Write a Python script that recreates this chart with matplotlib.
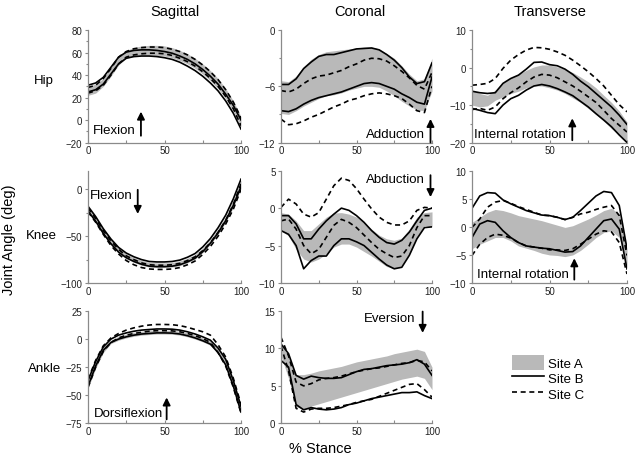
import matplotlib
matplotlib.use("Agg")
import matplotlib.pyplot as plt
from matplotlib.patches import Patch
from matplotlib.lines import Line2D
from matplotlib.ticker import FixedLocator

plt.rcParams['font.family'] = ['Liberation Sans', 'DejaVu Sans']

# % stance, sampled every 5 %
stance = list(range(0, 101, 5))

# ---- Hip sagittal
hip_sag_A_hi = [30, 32, 37, 47, 56, 62, 64.5, 66, 66.5, 66.5, 66, 64.5, 62, 59, 55, 50, 44, 37, 28, 17, 3]
hip_sag_A_lo = [22, 24, 30, 39, 49, 55, 57, 58, 58, 57.5, 57, 55.5, 53, 50, 46, 41, 35, 28, 19, 8, -6]
hip_sag_B_hi = [31, 33, 38, 47, 56, 60.5, 62, 62.5, 62.5, 62, 61, 59.5, 57, 54, 50, 45, 39, 32, 23, 13, 0]
hip_sag_B_lo = [25, 27, 32, 41, 50, 55, 56.5, 57, 57, 56.5, 55.5, 54, 51.5, 48, 44, 39, 33, 26, 17, 6, -8]
hip_sag_C_hi = [29, 31, 37, 46, 56, 61, 63.5, 64.5, 65, 65, 64.5, 63, 61, 58, 54, 49, 43, 36, 27, 16, 2]
hip_sag_C_lo = [24, 26, 31, 40, 50, 56, 58, 59, 59.5, 59.5, 59, 57.5, 55, 52, 48, 43, 37, 30, 21, 10, -5]

# ---- Hip coronal
hip_cor_A_hi = [-5.4, -5.5, -4.9, -3.9, -3.1, -2.6, -2.3, -2.2, -2.1, -2.0, -1.9, -1.8, -1.8, -2.0, -2.5, -3.0, -3.8, -4.7, -5.4, -5.2, -3.0]
hip_cor_A_lo = [-8.9, -9.0, -8.6, -8.1, -7.7, -7.3, -7.0, -6.9, -6.7, -6.4, -6.2, -6.0, -6.0, -6.1, -6.5, -7.0, -7.6, -8.1, -8.5, -8.6, -6.5]
hip_cor_B_hi = [-5.8, -5.8, -5.2, -4.1, -3.4, -2.8, -2.6, -2.6, -2.4, -2.2, -2.0, -1.95, -1.9, -2.1, -2.6, -3.2, -4.0, -5.0, -5.7, -5.5, -3.5]
hip_cor_B_lo = [-8.6, -8.7, -8.4, -7.9, -7.5, -7.2, -7.0, -6.8, -6.6, -6.3, -6.0, -5.7, -5.6, -5.7, -6.0, -6.3, -6.8, -7.2, -7.7, -7.9, -5.0]
hip_cor_C_hi = [-6.45, -6.6, -6.3, -5.7, -5.2, -4.9, -4.8, -4.55, -4.3, -3.9, -3.6, -3.2, -3.0, -3.05, -3.3, -3.8, -4.4, -5.1, -5.9, -6.3, -4.5]
hip_cor_C_lo = [-9.5, -10.1, -10.0, -9.7, -9.3, -9.0, -8.6, -8.2, -7.9, -7.5, -7.3, -7.0, -6.8, -6.7, -6.8, -7.0, -7.3, -7.9, -8.6, -8.8, -6.0]

# ---- Hip transverse
hip_tra_A_hi = [-6.0, -6.9, -7.4, -6.0, -4.0, -2.7, -1.8, -0.7, 0.2, 0.7, 0.7, 0.2, -0.4, -1.3, -2.5, -3.8, -5.4, -7.4, -9.3, -11.6, -14.5]
hip_tra_A_lo = [-10.0, -10.5, -10.2, -8.7, -7.8, -6.9, -6.3, -5.4, -4.9, -4.9, -5.4, -6.0, -6.9, -8.1, -9.3, -10.9, -12.5, -14.3, -16.3, -18.0, -19.8]
hip_tra_B_hi = [-6.3, -6.7, -6.9, -6.7, -4.2, -2.9, -2.0, -0.4, 1.4, 1.5, 0.8, 0.5, -0.4, -1.8, -3.6, -5.1, -6.9, -8.7, -10.5, -12.7, -15.2]
hip_tra_B_lo = [-10.9, -11.4, -12.0, -12.3, -10.0, -8.3, -7.4, -6.0, -4.9, -4.5, -4.9, -5.6, -6.5, -7.5, -9.0, -10.5, -12.3, -14.0, -15.8, -18.0, -20.0]
hip_tra_C_hi = [-4.7, -4.5, -4.2, -2.9, -0.2, 2.0, 3.5, 4.7, 5.4, 5.3, 4.9, 4.2, 3.3, 2.0, 0.5, -1.1, -2.9, -4.9, -7.4, -9.9, -11.8]
hip_tra_C_lo = [-11.2, -10.9, -11.4, -10.5, -8.3, -6.7, -5.4, -3.8, -2.5, -1.8, -2.0, -2.7, -3.8, -4.9, -6.3, -7.8, -9.3, -11.4, -13.6, -15.4, -17.2]

# ---- Knee sagittal
knee_sag_A_hi = [-19, -30, -43, -54, -63, -69, -73, -76, -78, -78.5, -78.5, -78, -76.5, -73.5, -69.5, -62.5, -53.5, -42, -29, -11, 10]
knee_sag_A_lo = [-24, -35, -48, -59, -68, -74, -78, -81, -83, -83.5, -83.5, -83, -81.5, -78.5, -74.5, -67.5, -58.5, -48, -35, -19, 1]
knee_sag_B_hi = [-18, -29, -42, -53, -62, -68, -72, -75, -77, -77.5, -77.5, -77, -75.5, -72.5, -68.5, -61.5, -52.5, -41, -27.5, -10, 11]
knee_sag_B_lo = [-23, -34, -47, -58, -67, -73, -77, -80, -82, -82.5, -82.5, -82, -80.5, -77.5, -73.5, -66.5, -57.5, -46.5, -33.5, -17, 3]
knee_sag_C_hi = [-20, -31, -44, -55, -64, -71, -75, -78.5, -80.5, -81, -81, -80.5, -79, -76, -72, -65.5, -57, -46, -33, -16, 6]
knee_sag_C_lo = [-24, -35, -48, -60, -69, -76, -80.5, -83.5, -85, -85.5, -85.5, -85, -83.5, -80.5, -76.5, -69.5, -61, -50, -37, -21, 0]

# ---- Knee coronal
knee_cor_A_hi = [-0.6, -0.8, -1.7, -3.0, -3.0, -2.1, -1.2, -0.65, -0.6, -0.8, -1.2, -1.9, -2.8, -3.6, -4.1, -4.3, -4.0, -2.8, -1.2, -0.6, -0.5]
knee_cor_A_lo = [-3.0, -3.7, -5.5, -6.8, -7.2, -6.8, -6.1, -5.2, -4.8, -4.8, -5.2, -5.8, -6.4, -7.1, -7.8, -8.1, -7.7, -6.1, -3.9, -2.3, -2.5]
knee_cor_B_hi = [-1.0, -1.0, -2.1, -4.1, -4.1, -2.8, -1.7, -0.8, 0.0, -0.3, -1.0, -1.9, -3.0, -3.9, -4.6, -4.8, -4.3, -3.2, -1.7, -0.3, 0.0]
knee_cor_B_lo = [-3.0, -3.5, -5.0, -8.1, -7.0, -6.4, -6.4, -5.0, -4.1, -4.1, -4.5, -5.0, -5.9, -6.8, -7.6, -8.1, -7.9, -6.3, -4.1, -2.6, -2.5]
knee_cor_C_hi = [0.1, 1.2, 0.55, -0.8, -1.2, -0.6, 1.2, 3.0, 4.0, 3.7, 2.6, 1.2, -0.1, -1.2, -1.9, -2.25, -2.25, -1.7, -0.3, 0.1, 0.0]
knee_cor_C_lo = [-1.7, -1.45, -2.8, -5.0, -6.1, -5.5, -3.9, -2.3, -1.5, -1.9, -2.6, -3.6, -4.6, -5.5, -6.1, -6.6, -6.4, -5.0, -2.6, -1.0, -1.0]

# ---- Knee transverse
knee_tra_A_hi = [0.8, 1.7, 2.6, 3.1, 2.9, 2.5, 2.0, 1.7, 1.4, 1.1, 0.7, 0.3, -0.1, 0.2, 0.8, 1.4, 2.1, 2.9, 3.3, 2.3, -3.9]
knee_tra_A_lo = [-3.9, -3.1, -2.5, -1.9, -1.9, -2.5, -3.4, -3.8, -4.2, -4.7, -5.0, -5.1, -5.3, -5.0, -4.2, -3.1, -1.9, -1.0, -0.7, -1.9, -7.5]
knee_tra_B_hi = [3.3, 5.5, 6.1, 6.0, 4.8, 4.1, 3.5, 2.9, 2.5, 2.1, 2.0, 1.7, 1.3, 1.7, 2.9, 4.2, 5.5, 6.3, 6.1, 3.8, -3.9]
knee_tra_B_lo = [-1.9, 0.5, 1.1, 0.8, -0.7, -1.9, -2.8, -3.4, -3.6, -3.8, -3.9, -4.2, -4.5, -4.4, -3.4, -1.9, -0.4, 1.1, 1.4, -0.4, -7.5]
knee_tra_C_hi = [-0.1, 1.4, 3.5, 4.4, 4.7, 4.2, 3.6, 3.1, 2.6, 2.1, 2.0, 1.7, 1.3, 1.7, 2.3, 2.6, 3.1, 3.5, 3.8, 2.0, -5.1]
knee_tra_C_lo = [-5.1, -3.1, -1.9, -1.3, -1.5, -2.0, -2.8, -3.4, -3.6, -3.8, -4.1, -4.1, -4.2, -3.9, -3.1, -2.2, -1.3, -0.7, -0.9, -2.8, -8.4]

# ---- Ankle sagittal
ank_sag_A_hi = [-38, -20, -7, -1, 2.5, 4.5, 6, 7, 7.5, 8, 8, 7.8, 7, 5.5, 3.5, 1, -2, -9, -19, -38, -61]
ank_sag_A_lo = [-44, -26, -12, -4, -1, 1, 2.5, 3.5, 4, 4.5, 4.5, 4.3, 3.5, 2, 0, -2.5, -5.5, -13, -24, -43, -66]
ank_sag_B_hi = [-37, -20, -7, 0, 3.5, 5.5, 7, 8, 8.5, 9, 9, 8.8, 8, 6.5, 4.5, 2, -1, -8, -18, -37, -60]
ank_sag_B_lo = [-42, -24, -10, -3, 0, 2, 3.5, 4.5, 5, 5.5, 5.5, 5.3, 4.5, 3, 1, -1.5, -4.5, -12, -23, -42, -65]
ank_sag_C_hi = [-36, -19, -6, 1, 5, 8, 10, 11.5, 12.5, 13, 13, 12.8, 12, 10.5, 8.5, 6.5, 3.5, -5, -16, -35, -58]
ank_sag_C_lo = [-43, -25, -11, -3, 1, 3.5, 5, 6, 7, 7.5, 7.5, 7.3, 6.5, 5, 3, 0.5, -3, -12, -24, -43, -66]

# ---- Ankle coronal
ank_cor_A_hi = [10.5, 9.0, 6.5, 6.5, 6.7, 7.0, 7.2, 7.4, 7.6, 7.9, 8.2, 8.4, 8.6, 8.8, 9.0, 9.3, 9.5, 9.7, 9.9, 9.6, 7.5]
ank_cor_A_lo = [9.0, 6.0, 2.2, 1.9, 2.3, 2.6, 2.9, 3.2, 3.5, 3.8, 4.1, 4.4, 4.7, 5.0, 5.3, 5.6, 5.9, 6.1, 6.3, 6.0, 4.5]
ank_cor_B_hi = [10.6, 9.3, 6.4, 5.9, 6.3, 6.1, 6.0, 6.0, 6.1, 6.5, 6.9, 7.2, 7.3, 7.5, 7.7, 7.8, 7.9, 8.1, 8.5, 7.9, 6.4]
ank_cor_B_lo = [8.4, 7.5, 2.5, 1.8, 2.1, 1.9, 1.8, 1.9, 2.1, 2.5, 2.7, 3.0, 3.3, 3.5, 3.7, 3.9, 4.1, 4.1, 4.2, 3.7, 3.3]
ank_cor_C_hi = [11.5, 9.0, 5.5, 5.0, 5.3, 5.8, 6.0, 6.1, 6.3, 6.6, 6.9, 7.1, 7.3, 7.4, 7.6, 7.8, 8.0, 8.1, 8.4, 8.2, 7.0]
ank_cor_C_lo = [10.3, 7.0, 2.0, 1.5, 1.9, 2.0, 2.0, 2.1, 2.3, 2.5, 2.8, 3.0, 3.2, 3.6, 4.0, 4.4, 4.8, 5.2, 5.3, 4.5, 3.5]

plane_titles = ['Sagittal', 'Coronal', 'Transverse']
joint_labels = ['Hip', 'Knee', 'Ankle']
site_labels = ['Site A', 'Site B', 'Site C']

# (row, col): curves, ylim, major ticks, minor ticks
panels = {
    (0, 0): ((hip_sag_A_lo, hip_sag_A_hi, hip_sag_B_lo, hip_sag_B_hi, hip_sag_C_lo, hip_sag_C_hi),
             (-20, 80), [-20, 0, 20, 40, 60, 80], [-10, 10, 30, 50, 70]),
    (0, 1): ((hip_cor_A_lo, hip_cor_A_hi, hip_cor_B_lo, hip_cor_B_hi, hip_cor_C_lo, hip_cor_C_hi),
             (-12, 0), [-12, -6, 0], [-9, -3]),
    (0, 2): ((hip_tra_A_lo, hip_tra_A_hi, hip_tra_B_lo, hip_tra_B_hi, hip_tra_C_lo, hip_tra_C_hi),
             (-20, 10), [-20, -10, 0, 10], [-15, -5, 5]),
    (1, 0): ((knee_sag_A_lo, knee_sag_A_hi, knee_sag_B_lo, knee_sag_B_hi, knee_sag_C_lo, knee_sag_C_hi),
             (-100, 20), [-100, -50, 0], [-75, -25]),
    (1, 1): ((knee_cor_A_lo, knee_cor_A_hi, knee_cor_B_lo, knee_cor_B_hi, knee_cor_C_lo, knee_cor_C_hi),
             (-10, 5), [-10, -5, 0, 5], []),
    (1, 2): ((knee_tra_A_lo, knee_tra_A_hi, knee_tra_B_lo, knee_tra_B_hi, knee_tra_C_lo, knee_tra_C_hi),
             (-10, 10), [-10, -5, 0, 5, 10], []),
    (2, 0): ((ank_sag_A_lo, ank_sag_A_hi, ank_sag_B_lo, ank_sag_B_hi, ank_sag_C_lo, ank_sag_C_hi),
             (-75, 25), [-75, -50, -25, 0, 25], []),
    (2, 1): ((ank_cor_A_lo, ank_cor_A_hi, ank_cor_B_lo, ank_cor_B_hi, ank_cor_C_lo, ank_cor_C_hi),
             (0, 15), [0, 5, 10, 15], []),
}

# annotation: text, text anchor (x, y, ha), arrow tail, arrow head (axes fraction)
notes = {
    (0, 0): ('Flexion', (0.03, 0.115, 'left'), (0.346, 0.06), (0.346, 0.275)),
    (0, 1): ('Adduction', (0.955, 0.08, 'right'), (0.99, 0.0), (0.99, 0.21)),
    (0, 2): ('Internal rotation', (0.013, 0.075, 'left'), (0.647, 0.02), (0.647, 0.215)),
    (1, 0): ('Flexion', (0.01, 0.785, 'left'), (0.325, 0.83), (0.325, 0.615)),
    (1, 1): ('Abduction', (0.955, 0.925, 'right'), (0.99, 0.96), (0.99, 0.765)),
    (1, 2): ('Internal rotation', (0.03, 0.08, 'left'), (0.66, 0.03), (0.66, 0.22)),
    (2, 0): ('Dorsiflexion', (0.04, 0.092, 'left'), (0.514, 0.035), (0.514, 0.23)),
    (2, 1): ('Eversion', (0.887, 0.938, 'right'), (0.938, 0.995), (0.938, 0.805)),
}

col_left = [88 / 642, 281 / 642, 472 / 642]
col_width = [153 / 642, 151 / 642, 155 / 642]
row_bottom = [1 - 143.5 / 456, 1 - 284 / 456, 1 - 424.3 / 456]
row_height = 112.3 / 456

spine_col = '#8a8a8a'
band_col = '#b9b9b9'

fig = plt.figure(figsize=(6.42, 4.56), dpi=100)

for (r, c), (curves, ylim, major, minor) in panels.items():
    ax = fig.add_axes([col_left[c], row_bottom[r], col_width[c], row_height])
    a_lo, a_hi, b_lo, b_hi, c_lo, c_hi = curves
    ax.fill_between(stance, a_lo, a_hi, color=band_col, lw=0)
    ax.plot(stance, b_lo, color='k', lw=1.2)
    ax.plot(stance, b_hi, color='k', lw=1.2)
    ax.plot(stance, c_lo, color='k', lw=1.2, dashes=(3, 2.2))
    ax.plot(stance, c_hi, color='k', lw=1.2, dashes=(3, 2.2))
    ax.set_xlim(0, 100)
    ax.set_ylim(*ylim)
    ax.set_xticks([0, 50, 100])
    ax.xaxis.set_minor_locator(FixedLocator([25, 75]))
    ax.set_yticks(major)
    ax.yaxis.set_minor_locator(FixedLocator(minor))
    for s in ['top', 'right']:
        ax.spines[s].set_visible(False)
    for s in ['left', 'bottom']:
        ax.spines[s].set_color(spine_col)
        ax.spines[s].set_linewidth(0.9)
    ax.tick_params(axis='both', which='both', colors=spine_col, labelcolor='#222222', labelsize=7, width=0.8)
    ax.tick_params(axis='y', which='major', direction='out', length=2.5, pad=1.5)
    ax.tick_params(axis='y', which='minor', direction='out', length=1.5)
    ax.tick_params(axis='x', which='both', direction='in', length=2.5, pad=2)

    txt, (tx, ty, ha), tail, head = notes[(r, c)]
    ax.text(tx, ty, txt, transform=ax.transAxes, ha=ha, va='center', fontsize=9.5)
    ax.annotate('', xy=head, xytext=tail, xycoords='axes fraction', textcoords='axes fraction',
                arrowprops=dict(arrowstyle='-|>', color='k', lw=1.3, mutation_scale=11,
                                shrinkA=0, shrinkB=0))

# titles and row labels
title_x = [175, 360, 550]
for t, xp in zip(plane_titles, title_x):
    fig.text(xp / 642, 1 - 12 / 456, t, ha='center', va='center', fontsize=10.5)
label_pos = [(44, 81), (41, 236), (45, 369)]
for t, (xp, yp) in zip(joint_labels, label_pos):
    fig.text(xp / 642, 1 - yp / 456, t, ha='center', va='center', fontsize=9.5)

fig.text(9 / 642, 1 - 240 / 456, 'Joint Angle (deg)', rotation=90, ha='center', va='center', fontsize=10.5)
fig.text(320 / 642, 1 - 449 / 456, '% Stance', ha='center', va='center', fontsize=10.5)

handles = [Patch(facecolor=band_col, edgecolor='none'),
           Line2D([], [], color='k', lw=1.2),
           Line2D([], [], color='k', lw=1.2, dashes=(3, 2.2))]
fig.legend(handles, site_labels, loc='center left', bbox_to_anchor=(512 / 642, 1 - 379 / 456),
           frameon=False, fontsize=9.5, handlelength=2.4, handleheight=1.4,
           handletextpad=0.35, labelspacing=0.0, borderaxespad=0, borderpad=0)

fig.savefig('out.png', dpi=100)
